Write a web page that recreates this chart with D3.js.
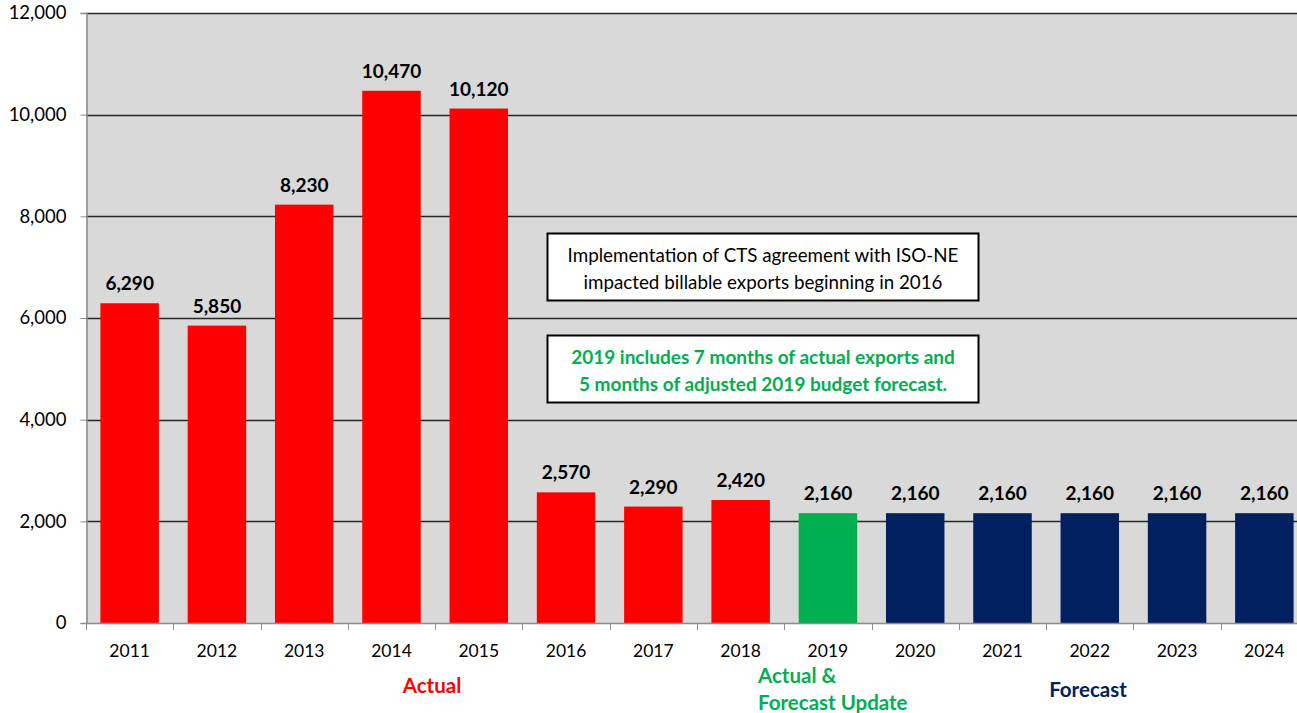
<!DOCTYPE html>
<html><head><meta charset="utf-8">
<script src="https://cdn.jsdelivr.net/npm/d3@7"></script>
<style>body{margin:0;background:#fff;overflow:hidden}svg{display:block}</style>
</head><body>
<svg id="chart" width="1297" height="713"></svg>
<script>
const years = ["2011","2012","2013","2014","2015","2016","2017","2018","2019","2020","2021","2022","2023","2024"];
const values = [6290,5850,8230,10470,10120,2570,2290,2420,2160,2160,2160,2160,2160,2160];
const groups = ["actual","actual","actual","actual","actual","actual","actual","actual","update","forecast","forecast","forecast","forecast","forecast"];
const yTicks = [0,2000,4000,6000,8000,10000,12000];
const colors = {actual:"#ff0000", update:"#00b050", forecast:"#002060"};
const font = "Lato, 'Open Sans', sans-serif";

const svg = d3.select("#chart");
const pLeft = 86, pRight = 1308, pTop = 13, pBottom = 623;
const x = d3.scaleBand().domain(years).range([pLeft, pRight]).paddingInner(0.33).paddingOuter(0.165);
const y = d3.scaleLinear().domain([0,12000]).range([pBottom, pTop]);

svg.append("rect").attr("x", pLeft).attr("y", pTop).attr("width", pRight-pLeft).attr("height", pBottom-pTop).attr("fill", "#d9d9d9");

// gridlines
svg.append("g").selectAll("line").data(yTicks.filter(d=>d>0)).join("line")
  .attr("x1", pLeft).attr("x2", pRight).attr("y1", d=>Math.round(y(d))+0.5).attr("y2", d=>Math.round(y(d))+0.5)
  .attr("stroke", "#262626").attr("stroke-width", 1.3);

// bars
svg.append("g").selectAll("rect").data(values).join("rect")
  .attr("x", (d,i)=>x(years[i])).attr("width", x.bandwidth())
  .attr("y", d=>y(d)).attr("height", d=>pBottom-y(d))
  .attr("fill", (d,i)=>colors[groups[i]]);

// value labels
svg.append("g").selectAll("text").data(values).join("text")
  .attr("x", (d,i)=>x(years[i])+x.bandwidth()/2).attr("y", d=>y(d)-13)
  .attr("text-anchor","middle").attr("font-family", font).attr("font-weight","bold")
  .attr("font-size", 19).attr("fill","#000").text(d=>d3.format(",")(d));

// y axis
const yAxis = d3.axisLeft(y).tickValues(yTicks).tickFormat(d3.format(",")).tickSize(6).tickPadding(14);
const ya = svg.append("g").attr("transform", `translate(${pLeft+0.5},0)`).call(yAxis);
ya.select(".domain").attr("stroke","#8c8c8c").attr("stroke-width",1.5);
ya.selectAll(".tick line").attr("stroke","#8c8c8c");
ya.selectAll("text").attr("font-family", font).attr("font-size", 18.5).attr("fill","#000");

// x axis
const tickPos = d3.range(years.length+1).map(i=>pLeft + i*x.step());
const xa = svg.append("g");
xa.append("line").attr("x1", pLeft).attr("x2", pRight).attr("y1", pBottom+0.5).attr("y2", pBottom+0.5).attr("stroke","#8c8c8c").attr("stroke-width",1.5);
xa.selectAll(".tk").data(tickPos).join("line").attr("class","tk")
  .attr("x1", d=>Math.round(d)+0.5).attr("x2", d=>Math.round(d)+0.5).attr("y1", pBottom).attr("y2", pBottom+7).attr("stroke","#8c8c8c");
xa.selectAll("text.yl").data(years).join("text").attr("class","yl")
  .attr("x", d=>x(d)+x.bandwidth()/2).attr("y", 657).attr("text-anchor","middle")
  .attr("font-family", font).attr("font-size", 17.5).attr("fill","#000").text(d=>d);

// group labels
const gl = svg.append("g").attr("font-family", font).attr("font-weight","bold").attr("font-size", 20.5);
gl.append("text").attr("x", 432).attr("y", 693).attr("text-anchor","middle").attr("fill", colors.actual).text("Actual");
gl.append("text").attr("x", 758).attr("y", 683).attr("fill", colors.update).text("Actual &");
gl.append("text").attr("x", 758).attr("y", 710).attr("fill", colors.update).text("Forecast Update");
gl.append("text").attr("x", 1088).attr("y", 697).attr("text-anchor","middle").attr("fill", colors.forecast).text("Forecast");

// annotation boxes
const bx = svg.append("g");
bx.append("rect").attr("x", 547.5).attr("y", 233.5).attr("width", 431).attr("height", 67).attr("fill","#fff").attr("stroke","#000").attr("stroke-width",2);
bx.append("text").attr("x", 763).attr("y", 262).attr("text-anchor","middle").attr("font-family", font).attr("font-size", 18.8).attr("fill","#000").text("Implementation of CTS agreement with ISO-NE");
bx.append("text").attr("x", 763).attr("y", 289).attr("text-anchor","middle").attr("font-family", font).attr("font-size", 18.8).attr("fill","#000").text("impacted billable exports beginning in 2016");
bx.append("rect").attr("x", 547.5).attr("y", 335.5).attr("width", 431).attr("height", 67).attr("fill","#fff").attr("stroke","#000").attr("stroke-width",2);
bx.append("text").attr("x", 763).attr("y", 364).attr("text-anchor","middle").attr("font-family", font).attr("font-weight","bold").attr("font-size", 19).attr("fill", colors.update).text("2019 includes 7 months of actual exports and");
bx.append("text").attr("x", 763).attr("y", 391).attr("text-anchor","middle").attr("font-family", font).attr("font-weight","bold").attr("font-size", 19).attr("fill", colors.update).text("5 months of adjusted 2019 budget forecast.");
</script>
</body></html>
